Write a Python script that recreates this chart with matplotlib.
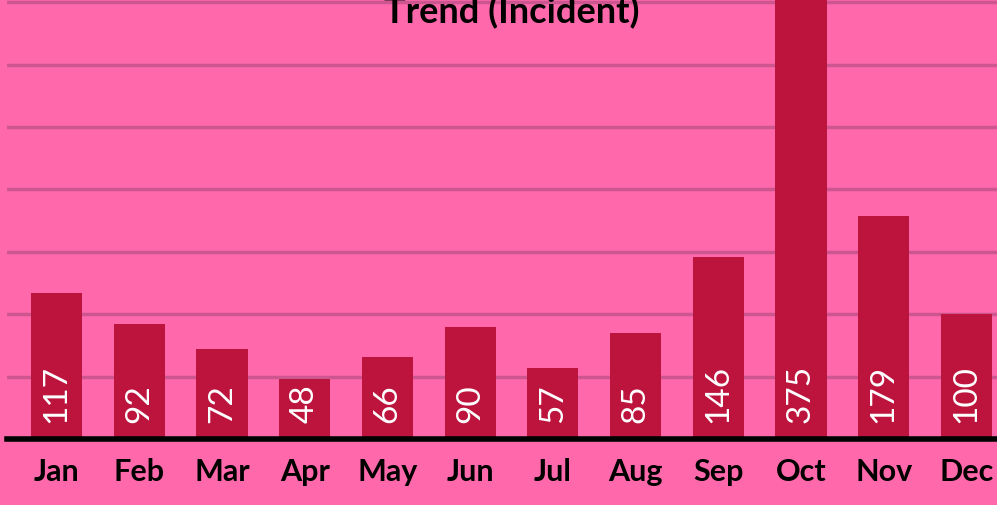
import matplotlib.pyplot as plt

# data
months = ['Jan', 'Feb', 'Mar', 'Apr', 'May', 'Jun',
          'Jul', 'Aug', 'Sep', 'Oct', 'Nov', 'Dec']
incidents = [117, 92, 72, 48, 66, 90, 57, 85, 146, 375, 179, 100]
grid_ticks = [50, 100, 150, 200, 250, 300, 350]

bg = '#FF69AB'
bar_col = '#BC143D'
grid_col = '#CD5690'

fig = plt.figure(figsize=(9.97, 5.06), dpi=100, facecolor=bg)
ax = fig.add_axes([7 / 997, 66 / 506, 1009 / 997, 440 / 506])
ax.set_facecolor(bg)

x = list(range(len(months)))
ax.bar(x, incidents, width=0.62, color=bar_col, zorder=2)

for xi, v in zip(x, incidents):
    ax.annotate(str(v), xy=(xi, 0), xytext=(0, 12), textcoords='offset points',
                rotation=90, ha='center', va='bottom', color='white',
                fontsize=24, family='Lato', fontweight='normal', zorder=3)

ax.set_xlim(-0.6, 11.6)
ax.set_ylim(0, 352.5)
ax.set_yticks(grid_ticks)
ax.yaxis.grid(True, color=grid_col, linewidth=2.5, zorder=1)
ax.tick_params(axis='y', left=False, labelleft=False)
ax.set_xticks(x)
ax.set_xticklabels(months, fontsize=22, fontweight='bold', family='Lato')
ax.tick_params(axis='x', length=0, pad=13)

for s in ['top', 'right', 'left']:
    ax.spines[s].set_visible(False)
ax.spines['bottom'].set_linewidth(4)
ax.spines['bottom'].set_color('black')
ax.spines['bottom'].set_zorder(4)

ax.text(0.5, 1 - 23 / 440, 'Trend (Incident)', transform=ax.transAxes,
        ha='center', va='baseline', fontsize=26, fontweight='bold',
        family='Lato', color='black', zorder=5)

fig.savefig('out.png', dpi=100, facecolor=bg)
